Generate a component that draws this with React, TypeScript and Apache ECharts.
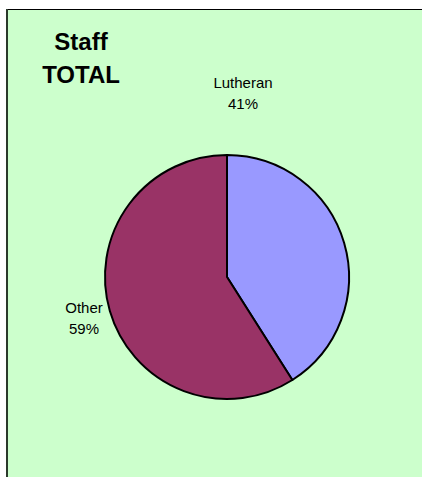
import React, { useEffect, useRef } from "react";
import * as echarts from "echarts";

const categories = ["Lutheran", "Other"];
const values = [41, 59];
const colors = ["#9999FF", "#993366"];
const titleLines = ["Staff", "TOTAL"];

const FONT = "'Liberation Sans', Arial, Helvetica, sans-serif";

export default function App() {
  const ref = useRef<HTMLDivElement>(null);
  useEffect(() => {
    if (!ref.current) return;
    const chart = echarts.init(ref.current, undefined, { renderer: "svg" });
    const labelPos = [
      { x: 243, y: 93 },
      { x: 84, y: 318 },
    ];
    chart.setOption({
      animation: false,
      backgroundColor: "#ffffff",
      graphic: [
        {
          type: "rect",
          shape: { x: 7, y: 9, width: 430, height: 480 },
          style: { fill: "#CCFFCC" },
          z: -10,
        },
        {
          type: "line",
          shape: { x1: 6, y1: 9.5, x2: 440, y2: 9.5 },
          style: { stroke: "#000000", lineWidth: 1 },
          z: -9,
        },
        {
          type: "line",
          shape: { x1: 7, y1: 9, x2: 7, y2: 490 },
          style: { stroke: "#2b3a2b", lineWidth: 2 },
          z: -9,
        },
        {
          type: "text",
          x: 81,
          y: 58,
          style: {
            text: titleLines.join("\n"),
            font: `bold 24px ${FONT}`,
            lineHeight: 33,
            textAlign: "center",
            textVerticalAlign: "middle",
            fill: "#000000",
          },
        },
      ],
      series: [
        {
          type: "pie",
          center: [227, 277],
          radius: 122,
          startAngle: 90,
          clockwise: true,
          avoidLabelOverlap: false,
          itemStyle: { borderColor: "#000000", borderWidth: 2 },
          label: {
            show: true,
            position: "outside",
            formatter: "{b}\n{d}%",
            fontFamily: FONT,
            fontSize: 15,
            lineHeight: 21,
            color: "#000000",
            align: "center",
          },
          labelLine: { show: false },
          labelLayout: (params: any) => ({
            x: labelPos[params.dataIndex].x,
            y: labelPos[params.dataIndex].y,
            align: "center",
            verticalAlign: "middle",
          }),
          emphasis: { disabled: true },
          data: categories.map((c, i) => ({
            name: c,
            value: values[i],
            itemStyle: { color: colors[i] },
          })),
        },
      ],
    });
    return () => chart.dispose();
  }, []);
  return (
    <div
      ref={ref}
      style={{ position: "fixed", left: 0, top: 0, width: 422, height: 477 }}
    />
  );
}
